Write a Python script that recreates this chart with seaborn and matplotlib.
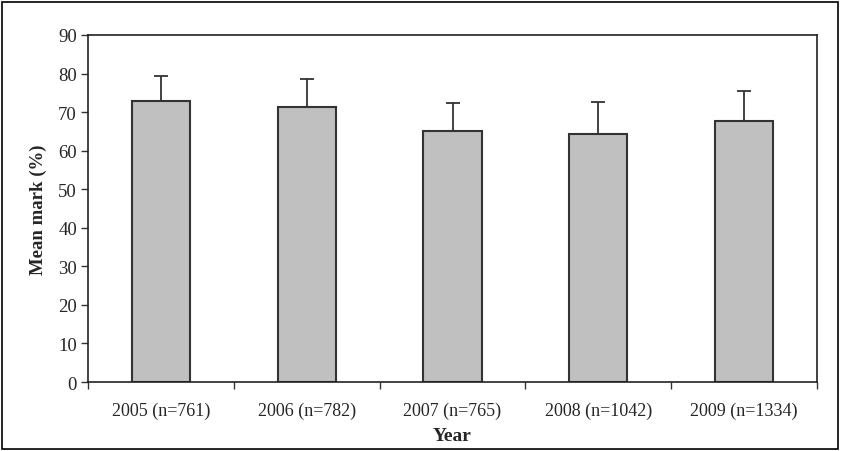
import numpy as np
import pandas as pd
import matplotlib
matplotlib.use("Agg")
import matplotlib.pyplot as plt
import seaborn as sns
from matplotlib.patches import Rectangle

# data
years = ["2005 (n=761)", "2006 (n=782)", "2007 (n=765)", "2008 (n=1042)", "2009 (n=1334)"]
mean_mark = [72.8, 71.2, 65.1, 64.2, 67.7]
sd_mark = [6.6, 7.3, 7.3, 8.5, 7.8]

sns.set_style("white")
plt.rcParams["font.family"] = ["Liberation Serif", "DejaVu Serif"]

df = pd.DataFrame({"year": years, "mean": mean_mark})

fig = plt.figure(figsize=(8.41, 4.52), dpi=100)
ax = fig.add_axes([88 / 841, 1 - 383 / 452, (817 - 88) / 841, (383 - 36) / 452])

sns.barplot(data=df, x="year", y="mean", color="#c0c0c0", edgecolor="#333333",
            linewidth=1.5, width=0.4, saturation=1, ax=ax)
xpos = np.arange(len(years))
ax.errorbar(xpos, mean_mark, yerr=[np.zeros(len(sd_mark)), sd_mark], fmt="none",
            ecolor="#333333", elinewidth=1.3, capsize=5, capthick=1.3)

ax.set_ylim(0, 90)
ax.set_xlim(-0.5, len(years) - 0.5)
ax.set_yticks(np.arange(0, 91, 10))
ax.set_xticks(np.arange(-0.5, len(years), 1.0))
ax.set_xticklabels([])
ax.set_xticks(xpos, minor=True)
ax.set_xticklabels(years, minor=True)
ax.tick_params(axis="x", which="major", direction="out", length=5, width=1, color="#333333")
ax.tick_params(axis="x", which="minor", length=0, pad=14.5, labelsize=13)
ax.tick_params(axis="y", direction="out", length=5, width=1, color="#333333", labelsize=13.5, pad=3)
ax.tick_params(left=True, bottom=True)
for s in ax.spines.values():
    s.set_visible(True)
    s.set_color("#222222")
    s.set_linewidth(1.2)

ax.set_ylabel("Mean mark (%)", fontsize=13.5, fontweight="bold", labelpad=8)
ax.set_xlabel("")
# x label placed in axes coords below the tick labels
ax.text(0.5, -0.13, "Year", transform=ax.transAxes, ha="center", va="top",
        fontsize=14, fontweight="bold")

# frame round the whole figure
fig.patches.append(Rectangle((2 / 841, 2 / 452), 836 / 841, 447 / 452, transform=fig.transFigure,
                             fill=False, edgecolor="black", linewidth=1.2))

fig.savefig("out.png", dpi=100)
